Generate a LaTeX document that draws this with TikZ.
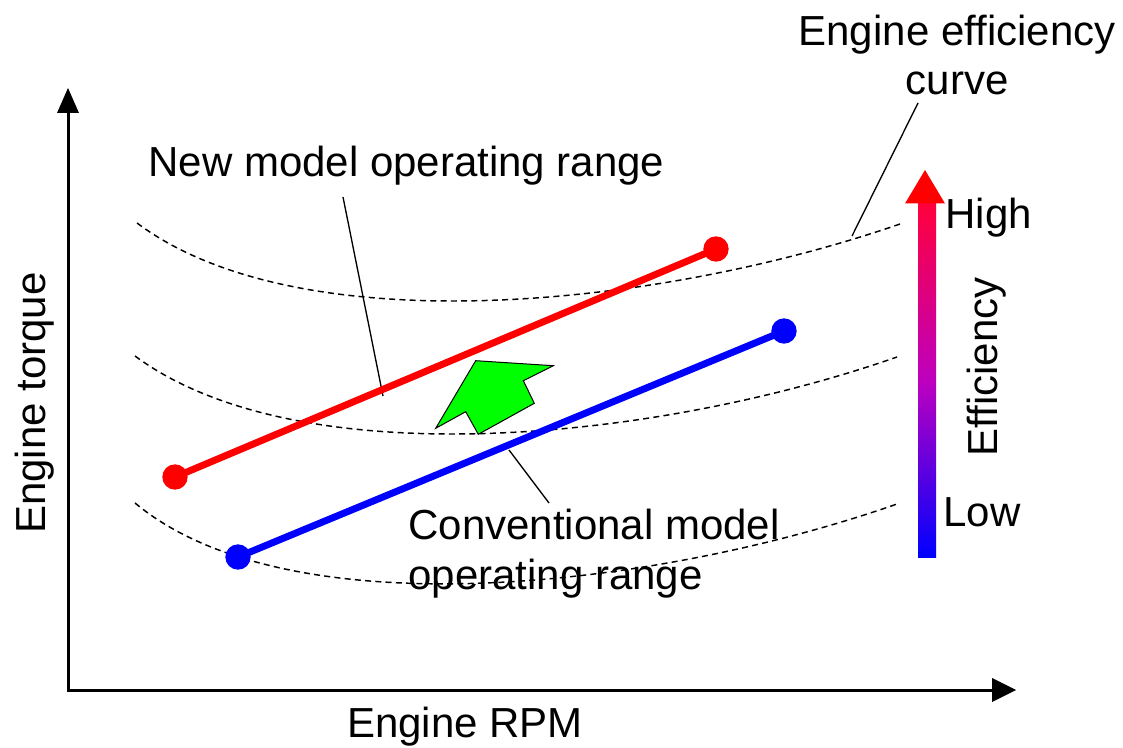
\documentclass[tikz,border=0pt]{standalone}
\usepackage{fontspec}
\setmainfont{Liberation Sans}

\tikzset{every picture/.style={line width=0.75pt}}
\tikzset{
  curvedash/.style={dash pattern={on 4.5pt off 3.2pt}, line width=1.1pt},
  leader/.style={line width=1pt},
  rangeline/.style={line width=5.2pt},
  rangedot/.style={circle, inner sep=0pt, minimum size=19pt},
  lbl/.style={inner sep=0pt, font=\fontsize{31.5}{37}\selectfont},
}

\begin{document}
\begin{tikzpicture}[x=0.75pt,y=0.75pt,yscale=-1,xscale=1]
	\useasboundingbox (0,0) rectangle (1123,748);
	
	%Straight Lines [id:axisTorque] 
	\draw [line width=2.25]    (68,691) -- (68,110) ;
	\draw [shift={(68,88)}, rotate = 90] [fill={rgb, 255:red, 0; green, 0; blue, 0 }  ][line width=0.08]  [draw opacity=0] (25,-11) -- (0,0) -- (25,11) -- cycle    ;
	%Straight Lines [id:axisRPM] 
	\draw [line width=2.25]    (67,690) -- (996,690) ;
	\draw [shift={(1016,690)}, rotate = 180] [fill={rgb, 255:red, 0; green, 0; blue, 0 }  ][line width=0.08]  [draw opacity=0] (24,-12) -- (0,0) -- (24,12) -- cycle    ;
	
	%Curve Lines [id:effHigh] 
	\draw  [curvedash]  (137,223) .. controls (300,345) and (660,307) .. (900,224) ;
	%Curve Lines [id:effMid] 
	\draw  [curvedash]  (135,356) .. controls (300,478) and (660,440) .. (897,357) ;
	%Curve Lines [id:effLow] 
	\draw  [curvedash]  (135,503) .. controls (290,632) and (660,587) .. (897,504) ;
	
	% Text Node
	\draw (148,177) node [anchor=base west][lbl] (newLbl) {New model operating range};
	% Text Node
	\draw (408,589) node [anchor=base west][lbl, align=left] (convLbl) {Conventional model\\operating range};
	% Text Node
	\draw (957,95) node [anchor=base][lbl, align=center] (curveLbl) {Engine efficiency\\curve};
	% Text Node
	\draw (945,229) node [anchor=base west][lbl] (highLbl) {High};
	% Text Node
	\draw (943,526) node [anchor=base west][lbl] (lowLbl) {Low};
	% Text Node
	\draw (997,367) node [anchor=base, rotate=90][lbl] (effLbl) {Efficiency};
	% Text Node
	\draw (45,403) node [anchor=base, rotate=90][lbl] (torqueLbl) {Engine torque};
	% Text Node
	\draw (465,737) node [anchor=base][lbl] (rpmLbl) {Engine RPM};
	
	%Straight Lines [id:leaders] 
	\coordinate (newFoot) at (343,197);
	\coordinate (newTip) at (383,396);
	\coordinate (convFoot) at (549,503);
	\coordinate (convTip) at (509,450);
	\coordinate (curveFoot) at (918,103);
	\coordinate (curveTip) at (852,236);
	\draw [leader]    (newFoot) -- (newTip) ;
	\draw [leader]    (convFoot) -- (convTip) ;
	\draw [leader]    (curveFoot) -- (curveTip) ;
	
	%Shape: Circle [id:newRange] 
	\draw (175,477) node [rangedot, fill={rgb, 255:red, 255; green, 0; blue, 0 }] (newLo) {};
	\draw (716,249) node [rangedot, fill={rgb, 255:red, 255; green, 0; blue, 0 }] (newHi) {};
	\draw [rangeline, color={rgb, 255:red, 255; green, 0; blue, 0 }]    (newLo.center) -- (newHi.center) ;
	%Shape: Circle [id:convRange] 
	\draw (238,557) node [rangedot, fill={rgb, 255:red, 0; green, 0; blue, 255 }] (convLo) {};
	\draw (784,331) node [rangedot, fill={rgb, 255:red, 0; green, 0; blue, 255 }] (convHi) {};
	\draw [rangeline, color={rgb, 255:red, 0; green, 0; blue, 255 }]    (convLo.center) -- (convHi.center) ;
	
	%Shape: Polygon [id:shiftArrow] 
	\draw  [fill={rgb, 255:red, 0; green, 255; blue, 0 }  ] (435.7,428.3) -- (475.7,360.7) -- (553.3,365.7) -- (523.3,380.7) -- (534.3,403.3) -- (478.3,434.3) -- (465.7,411.7) -- cycle ;
	
	%Shape: Rectangle [id:effBar] 
	\shade [bottom color={rgb, 255:red, 0; green, 0; blue, 255 }, top color={rgb, 255:red, 255; green, 0; blue, 60 }, middle color={rgb, 255:red, 190; green, 0; blue, 190 }] (918,203) rectangle (936,557) ;
	\fill [color={rgb, 255:red, 255; green, 0; blue, 0 }] (905,203.5) -- (925,170) -- (945,203.5) -- cycle ;
	
\end{tikzpicture}
\end{document}
